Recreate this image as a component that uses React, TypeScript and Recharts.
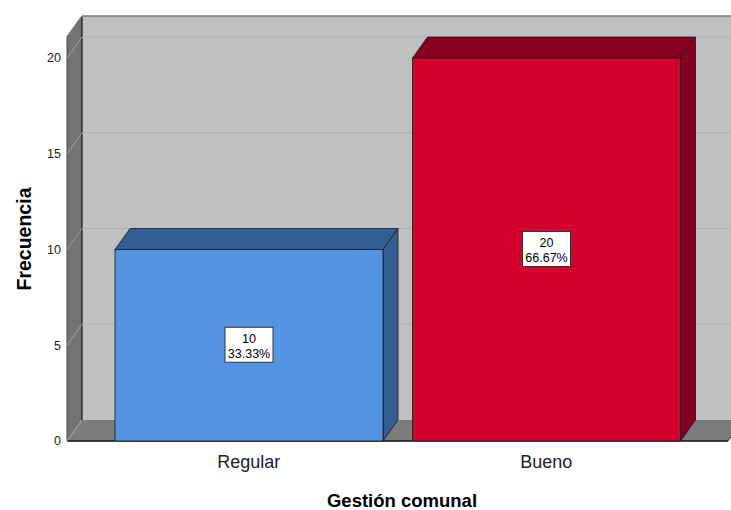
import React from "react";
import { BarChart, Bar, XAxis, YAxis, CartesianGrid, LabelList, Label } from "recharts";

const categories = ["Regular", "Bueno"];
const counts = [10, 20];
const yTicks = [0, 5, 10, 15, 20];
const yMax = 21.1;

const frontColors = ["#5594E3", "#D6002F"];
const sideColors = ["#345E93", "#87001F"];

// depth of the fake 3D box
const DX = 15;
const DY = 21;
const FONT = "'Liberation Sans', Arial, sans-serif";

const total = counts.reduce((a, b) => a + b, 0);
const data = categories.map((name, i) => ({ name, count: counts[i] }));

function WallsAndGrid(props: any) {
  const { x1, x2, y1, index } = props;
  const top = typeof props.y === "number" ? props.y : props.offset?.top ?? 0;
  const bottom = top + (props.height ?? 0);
  const isFloor = Math.abs(y1 - bottom) < 0.5;

  return (
    <g>
      {index === 0 && (
        <g>
          <rect x={x1 + DX} y={top - DY} width={x2 - x1} height={bottom - top} fill="#C0C0C0" />
          <polygon
            points={`${x1},${top} ${x1 + DX},${top - DY} ${x1 + DX},${bottom - DY} ${x1},${bottom}`}
            fill="#737373"
          />
          <polygon
            points={`${x1},${bottom} ${x2},${bottom} ${x2 + DX},${bottom - DY} ${x1 + DX},${bottom - DY}`}
            fill="#7B7B7B"
          />
          <line x1={x1 + DX} y1={top - DY} x2={x2 + DX} y2={top - DY} stroke="#111" strokeWidth={1.2} />
          <line x1={x1} y1={top} x2={x1 + DX} y2={top - DY} stroke="#111" strokeWidth={1.2} />
          <line x1={x1 + DX} y1={top - DY} x2={x1 + DX} y2={bottom - DY} stroke="#111" strokeWidth={1.2} />
          <line x1={x1} y1={top} x2={x1} y2={bottom} stroke="#444" strokeWidth={1} />
          <line x1={x1} y1={bottom} x2={x2} y2={bottom} stroke="#111" strokeWidth={1.5} />
          <line x1={x2} y1={bottom} x2={x2 + DX} y2={bottom - DY} stroke="#333" strokeWidth={1} />
        </g>
      )}
      <line x1={x1} y1={y1} x2={x1 + DX} y2={y1 - DY} stroke="#A3A3A3" strokeWidth={1} />
      {!isFloor && (
        <line x1={x1 + DX} y1={y1 - DY} x2={x2 + DX} y2={y1 - DY} stroke="#ADADAD" strokeWidth={1} />
      )}
    </g>
  );
}

function Box3D(props: any) {
  const { x, y, width, height, payload } = props;
  const i = Math.max(0, categories.indexOf(payload?.name));
  const front = frontColors[i];
  const side = sideColors[i];
  const r = x + width;
  const b = y + height;
  return (
    <g>
      <polygon
        points={`${x},${y} ${x + DX},${y - DY} ${r + DX},${y - DY} ${r},${y}`}
        fill={side}
        stroke="#1a1a1a"
        strokeWidth={0.8}
      />
      <polygon
        points={`${r},${y} ${r + DX},${y - DY} ${r + DX},${b - DY} ${r},${b}`}
        fill={side}
        stroke="#1a1a1a"
        strokeWidth={0.8}
      />
      <rect x={x} y={y} width={width} height={height} fill={front} stroke="#1a1a1a" strokeWidth={0.8} />
    </g>
  );
}

function BoxLabel(props: any) {
  const { x, y, width, height, value } = props;
  const cx = x + width / 2;
  const cy = y + height / 2;
  const pct = ((Number(value) / total) * 100).toFixed(2) + "%";
  return (
    <g>
      <rect x={cx - 24} y={cy - 18} width={48} height={35} fill="#fff" stroke="#333" strokeWidth={1} />
      <text x={cx} y={cy - 2.5} textAnchor="middle" fontFamily={FONT} fontSize={12.5} fill="#000">
        {value}
      </text>
      <text x={cx} y={cy + 12.5} textAnchor="middle" fontFamily={FONT} fontSize={12.5} fill="#000">
        {pct}
      </text>
    </g>
  );
}

export default function App() {
  return (
    <div style={{ position: "absolute", left: 0, top: 0, width: 731, height: 510, background: "#fff" }}>
      <BarChart
        width={731}
        height={510}
        data={data}
        margin={{ top: 37, right: 3, bottom: 0, left: 0 }}
        barCategoryGap={15}
      >
        <CartesianGrid vertical={false} horizontal={(p: any) => <WallsAndGrid key={p.key} {...p} />} />
        <XAxis
          dataKey="name"
          height={69}
          padding={{ left: 33, right: 33 }}
          tickLine={false}
          axisLine={false}
          tickSize={0}
          tickMargin={14}
          tick={{ fill: "#222", fontSize: 18, fontFamily: FONT }}
        >
          <Label
            content={(p: any) => {
              const vb = p.viewBox || { x: 67, y: 441, width: 661, height: 69 };
              return (
                <text
                  x={vb.x + vb.width / 2 + 4.5}
                  y={vb.y + vb.height - 3}
                  textAnchor="middle"
                  fontFamily={FONT}
                  fontWeight="bold"
                  fontSize={18.5}
                  fill="#000"
                >
                  Gestión comunal
                </text>
              );
            }}
          />
        </XAxis>
        <YAxis
          type="number"
          domain={[0, yMax]}
          ticks={yTicks}
          width={67}
          tickLine={false}
          axisLine={false}
          tickSize={0}
          tickMargin={6}
          tick={{ fill: "#222", fontSize: 12.5, fontFamily: FONT }}
        >
          <Label
            content={(p: any) => {
              const vb = p.viewBox || { x: 0, y: 37, width: 67, height: 404 };
              const cx = vb.x + 31;
              const cy = vb.y + vb.height / 2;
              return (
                <text
                  x={cx}
                  y={cy}
                  transform={`rotate(-90, ${cx}, ${cy})`}
                  textAnchor="middle"
                  fontFamily={FONT}
                  fontWeight="bold"
                  fontSize={19.5}
                  fill="#000"
                >
                  Frecuencia
                </text>
              );
            }}
          />
        </YAxis>
        <Bar dataKey="count" shape={<Box3D />} isAnimationActive={false}>
          <LabelList dataKey="count" content={<BoxLabel />} />
        </Bar>
      </BarChart>
    </div>
  );
}
